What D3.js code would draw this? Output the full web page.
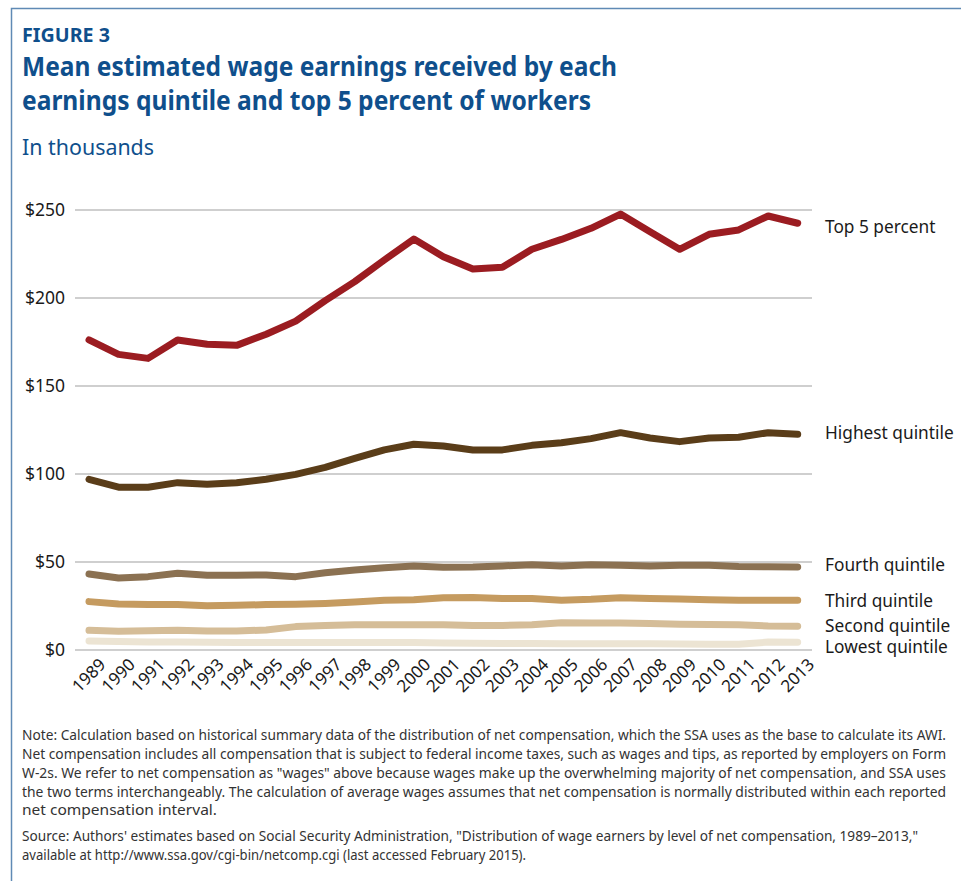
<!DOCTYPE html>
<html>
<head>
<meta charset="utf-8">
<script src="https://cdn.jsdelivr.net/npm/d3@7"></script>
<style>
  body { margin: 0; background: #fff; }
  svg { display: block; font-family: "Noto Sans", "Open Sans", sans-serif; }
  .grid line { stroke: #cfcfcf; stroke-width: 2; }
  .grid text, .xaxis text { fill: #1a1a1a; }
  .series { fill: none; stroke-width: 7; stroke-linecap: round; stroke-linejoin: round; }
</style>
</head>
<body>
<div id="chart"></div>
<script>
// data, thousands of dollars
var years = d3.range(1989, 2014);
var top5 = [175.9, 167.7, 165.4, 175.9, 173.4, 172.8, 179.1, 186.6, 198.2, 209.0, 221.3, 233.2,
            223.2, 216.2, 217.2, 227.4, 233.0, 239.3, 247.4, 237.4, 227.4, 235.9, 238.4, 246.3, 242.2];
var highest = [96.7, 92.2, 92.2, 94.8, 93.9, 94.8, 96.7, 99.5, 103.5, 108.6, 113.4, 116.6,
               115.6, 113.4, 113.4, 116.0, 117.5, 119.8, 123.2, 120.2, 118.1, 120.2, 120.6, 123.2, 122.3];
var fourth = [42.9, 40.6, 41.4, 43.3, 42.2, 42.2, 42.3, 41.4, 43.6, 45.2, 46.5, 47.4,
              46.7, 46.9, 47.5, 48.2, 47.5, 48.2, 47.8, 47.5, 47.8, 47.8, 47.2, 47.0, 46.9];
var third = [27.2, 25.9, 25.5, 25.5, 24.9, 25.1, 25.5, 25.7, 26.2, 27.0, 28.0, 28.3,
             29.4, 29.6, 29.0, 29.0, 28.0, 28.5, 29.4, 29.0, 28.7, 28.3, 28.0, 28.0, 28.0];
var second = [10.9, 10.3, 10.7, 10.9, 10.5, 10.5, 11.1, 13.0, 13.7, 14.1, 14.1, 14.1,
              14.0, 13.7, 13.7, 14.1, 15.2, 15.0, 15.0, 14.8, 14.4, 14.2, 14.1, 13.4, 13.2];
var lowest = [4.8, 4.5, 4.3, 4.2, 4.1, 4.0, 4.0, 4.0, 4.0, 4.0, 4.0, 4.0,
              3.7, 3.5, 3.4, 3.4, 3.3, 3.3, 3.2, 3.2, 3.1, 3.0, 3.0, 4.2, 4.1];
var seriesNames = ["Lowest quintile", "Second quintile", "Third quintile", "Fourth quintile", "Highest quintile", "Top 5 percent"];
var seriesColors = ["#ece4d3", "#d5bd98", "#c59b60", "#8b7152", "#5a3d19", "#9b1c21"];
var yTicks = [0, 50, 100, 150, 200, 250];

var noteLines = [
  "Note: Calculation based on historical summary data of the distribution of net compensation, which the SSA uses as the base to calculate its AWI.",
  "Net compensation includes all compensation that is subject to federal income taxes, such as wages and tips, as reported by employers on Form",
  "W-2s. We refer to net compensation as \"wages\" above because wages make up the overwhelming majority of net compensation, and SSA uses",
  "the two terms interchangeably. The calculation of average wages assumes that net compensation is normally distributed within each reported",
  "net compensation interval."
];
var sourceLines = [
  "Source: Authors' estimates based on Social Security Administration, \"Distribution of wage earners by level of net compensation, 1989\u20132013,\"",
  "available at http://www.ssa.gov/cgi-bin/netcomp.cgi (last accessed February 2015)."
];

var width = 961, height = 881;
var blue = "#0f4f8c";

var svg = d3.select("#chart").append("svg")
    .attr("width", width)
    .attr("height", height);

// frame
svg.append("path")
    .attr("d", "M11.5," + height + "V8.5H" + width)
    .attr("fill", "none")
    .attr("stroke", "#5f8ab5")
    .attr("stroke-width", 1.5);

// heading
svg.append("text").attr("x", 22).attr("y", 42)
    .attr("fill", blue).attr("font-weight", 700).attr("font-size", 19)
    .attr("textLength", 88).attr("lengthAdjust", "spacingAndGlyphs")
    .text("FIGURE 3");
svg.append("text").attr("x", 22).attr("y", 76)
    .attr("fill", blue).attr("font-weight", 700).attr("font-size", 27)
    .attr("textLength", 595).attr("lengthAdjust", "spacingAndGlyphs")
    .text("Mean estimated wage earnings received by each");
svg.append("text").attr("x", 22).attr("y", 110)
    .attr("fill", blue).attr("font-weight", 700).attr("font-size", 27)
    .attr("textLength", 569).attr("lengthAdjust", "spacingAndGlyphs")
    .text("earnings quintile and top 5 percent of workers");
svg.append("text").attr("x", 22).attr("y", 155)
    .attr("fill", blue).attr("font-size", 21)
    .attr("textLength", 132).attr("lengthAdjust", "spacingAndGlyphs")
    .text("In thousands");

// scales
var x = d3.scaleLinear().domain([1989, 2013]).range([89, 797.7]);
var y = d3.scaleLinear().domain([0, 250]).range([649.5, 209.5]);

// gridlines + y labels
var gridLeft = 75, gridRight = 812;
svg.append("g")
    .attr("class", "grid")
    .attr("transform", "translate(" + gridLeft + ",0)")
    .call(d3.axisLeft(y).tickValues(yTicks).tickSize(-(gridRight - gridLeft)).tickPadding(10)
        .tickFormat(function(d){ return "$" + d; }))
    .call(function(g){
        g.select(".domain").remove();
        g.selectAll("text").attr("font-size", 17.5).attr("font-family", "Noto Sans");
    });

// year labels
svg.append("g")
    .attr("class", "xaxis")
    .attr("transform", "translate(0," + y(0) + ")")
    .call(d3.axisBottom(x).tickValues(years).tickSize(0).tickFormat(d3.format("d")))
    .call(function(g){
        g.select(".domain").remove();
        g.selectAll("text")
            .attr("font-size", 17)
            .attr("font-family", "Noto Sans")
            .attr("text-anchor", "end")
            .attr("dy", "0.35em")
            .attr("y", 0)
            .attr("transform", "translate(13,12) rotate(-45)");
    });

// lines
var allSeries = [lowest, second, third, fourth, highest, top5];
var line = d3.line()
    .x(function(d, i){ return x(years[i]); })
    .y(function(d){ return y(d); });

svg.selectAll(".series")
    .data(allSeries)
    .enter().append("path")
    .attr("class", "series")
    .attr("stroke", function(d, i){ return seriesColors[i]; })
    .attr("d", line);

// end labels
var labelY = [653, 632, 606.5, 570.5, 439, 233];
svg.selectAll(".lbl")
    .data(seriesNames)
    .enter().append("text")
    .attr("class", "lbl")
    .attr("x", 825)
    .attr("y", function(d, i){ return labelY[i]; })
    .attr("font-size", 17.3)
    .attr("fill", "#1a1a1a")
    .text(function(d){ return d; });

// note + source
var noteWidths = [924, 924, 924, 924, 195];
var noteY = [740, 759, 778, 797, 815];
noteLines.forEach(function(t, i){
    svg.append("text").attr("x", 22).attr("y", noteY[i])
        .attr("font-size", 13.5).attr("fill", "#333")
        .attr("textLength", noteWidths[i]).attr("lengthAdjust", "spacingAndGlyphs")
        .text(t);
});
var sourceWidths = [896, 504];
var sourceY = [841, 860];
sourceLines.forEach(function(t, i){
    svg.append("text").attr("x", 22).attr("y", sourceY[i])
        .attr("font-size", 13.5).attr("fill", "#333")
        .attr("textLength", sourceWidths[i]).attr("lengthAdjust", "spacingAndGlyphs")
        .text(t);
});
</script>
</body>
</html>
